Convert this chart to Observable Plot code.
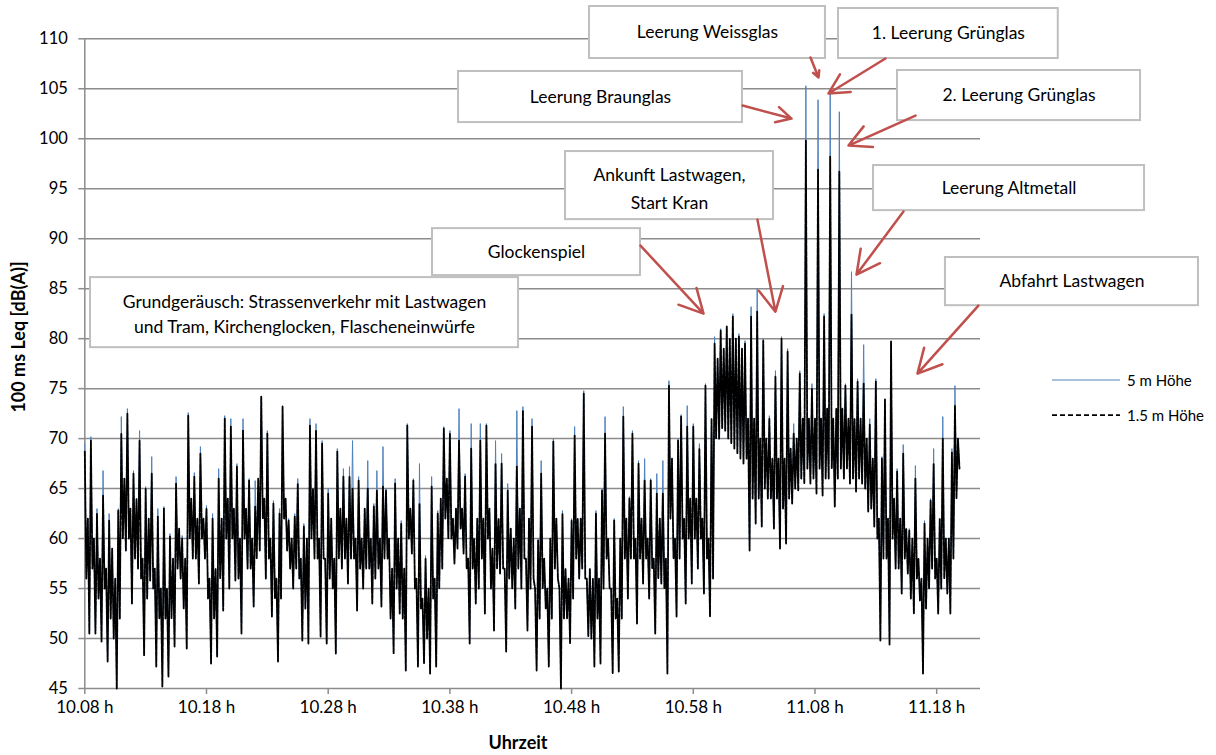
<!DOCTYPE html>
<html><head><meta charset="utf-8">
<script src="https://cdn.jsdelivr.net/npm/d3@7"></script>
<script src="https://cdn.jsdelivr.net/npm/@observablehq/plot@0.6"></script>
<style>
body{margin:0;background:#fff;}
#wrap{position:relative;width:1216px;height:755px;font-family:Lato,sans-serif;color:#000;}
#ylab{position:absolute;left:18px;top:337px;transform:translate(-50%,-50%) rotate(-90deg);font-weight:bold;font-size:18px;white-space:nowrap;}
#xlab{position:absolute;left:518px;top:742px;transform:translate(-50%,-50%);font-weight:bold;font-size:18px;white-space:nowrap;}
.leg{position:absolute;left:1051px;display:flex;align-items:center;font-size:15px;white-space:nowrap;}
.leg svg{margin-right:6px;}
</style>
</head><body>
<div id="wrap"></div>
<script>
// ---- data ----
// The 100 ms Leq record is summarised per 0.25-minute interval (starting 10.08 h)
// as the highest and lowest level reached in that interval.
const intervalMin = 0.25;
const xTickMinutes = [0,10,20,30,40,50,60,70];
const xTickLabels = ["10.08 h","10.18 h","10.28 h","10.38 h","10.48 h","10.58 h","11.08 h","11.18 h"];
const yTicks = [45,50,55,60,65,70,75,80,85,90,95,100,105,110];
const seriesNames = ["5 m Höhe","1.5 m Höhe"];
const yLabel = "100 ms Leq [dB(A)]";
const xLabel = "Uhrzeit";

// interval maxima, 1.5 m Höhe
const level15mMax = [
68.7,62,69.8,60,62.5,58,64.3,57,61.8,59,
56,62.8,70.5,66,72.5,63,66.5,64,69.8,58,
65,62,66.5,57,62.2,55,63,55,60.2,58,
65.5,61,60,58,72.3,64,66.2,62,68.5,62,
63,56,62,57,66,62,72,64,71.2,63,
67.2,60,70.8,63,65.8,60,63.2,66,74.2,64,
70.5,60,63.5,56,62.5,73.2,64,61.8,60,62.2,
65.5,58,61.2,60,71.3,65,70.8,60,69.5,58,
64.5,62,58,68.7,63,66.2,62,66.2,65,60,
65.8,60,63,65,60,63.2,64.8,60,65.2,64.8,
60,57,65.5,60,61.5,57,71.3,63,65.8,56,
63.5,54,58,55,65.2,56,62.5,64,71,66,
70.5,62,63,69.8,63,66.2,58,69,60,62,
69.8,62,71.3,63,59,67.5,62,67.5,57,64.8,
61,60,67.2,63,72.8,58,62,71.2,55,59.8,
66.5,58,55,60,69.7,62,55,62.5,57,56,
61.8,70.3,62,62,74.5,56,57,56,62.5,56,
64.8,70.5,60,55,61.8,54,60,72.2,62,64,
70.5,60,67.5,62,65.8,60,65.8,58,64.5,62,
64.5,58,75.3,68,60,69.8,72.2,62,71.2,64,
71.2,64,69,62,75.3,60,72,79.5,78,80.8,
79,81.2,80,82.2,80,80.2,79,79.5,72,82.2,
72,82.7,70,79.8,70,72,68,76.2,68,80,
68,78.7,69,70.5,70,76.5,72,99.8,72,75,
72,96.9,72,82.2,73,98.2,72,73,96.7,73,
75.3,72,82.4,72,75.7,72,75.5,70,71.4,68,
75.7,62,68,73.9,62,79.7,64,66.7,62,68.5,
61,60.8,60,66,58,56,61.5,60,63.8,67.5,
58,62,70,60,60,68.6,73.3,70
];
// interval maxima, 5 m Höhe
const level5mMax = [
69.5,62,70.2,60,63,58,66.8,57,62.5,59,
56,63,72.2,66,73,63,66.8,64,70.8,58,
65.2,62,68.2,57,63,55,63.2,55,60.5,58,
66.2,61,60.3,58,72.6,64,66.6,62,69.2,62,
63.3,56,62.5,57,67,62,72.3,64,72,63,
67.5,60,72,63,66,60,65.8,66,74.2,64,
70.8,60,63.8,56,63,73.3,64,62,60,62.5,
66,58,61.5,60,72,65,71.5,60,69.8,58,
65,62,58,69,63,67,62,67.2,69.8,60,
66.2,60,63,67.8,60,63.5,66.8,60,69.2,65,
60,57,66,60,61.8,57,71.5,63,66,56,
67.5,54,58.3,55,66.2,56,62.8,64,71.2,66,
70.8,62,63,73,63,66.5,58,71.5,60,62,
71.5,62,71.5,63,59,69.8,62,68.5,57,65.5,
61,60,72.8,63,73.2,58,62,72,55,60,
67.8,58,55,60,70,62,55,62.8,57,56,
62,71.2,62,62,74.8,56,57,56,62.8,56,
65,72.2,60,55,62,54,60,73.2,62,64.2,
70.8,60,67.8,62,68,60,66,58,66.5,62,
67.8,58,75.8,68,60,70,72.4,62,73.3,64,
71.5,64,69.5,62,75.5,60,72,80.2,78,81,
79,81.3,80,82.5,80,80.5,79,79.8,72,83.2,
72,85,70,80,70,72.3,68,76.8,68,80.2,
68,79,69,71.5,70,76.8,72,105.3,72,75.5,
72,103.9,72,82.5,73,104.5,72,73,102.7,73,
75.5,72,86.7,72,76,72,79.4,70,72,68,
76,62,68.2,74,62,79.8,64,67,62,69.4,
61,61,60,67.3,58,56,61.8,60,64,69,
58,62,72.2,60,60,69,75.3,70
];
// interval minima (both heights practically coincide)
const levelMin = [
56,50.5,57,50.5,54,49.7,55,47.7,52,50,
45,52,60,58.8,60,53.5,58,57,56,48.3,
54,55.8,55,47.2,52,45.2,52,46.2,52,49.2,
57,56,53,49,60,58,58,55.5,60,58,
54,47.5,52,48.2,56,52.8,60,55,60,55.8,
56,50.5,60,57,57,53.2,58,58.8,62,56,
58,52.2,54,47.7,54,62,58.8,57,55,57,
56,49.8,53,49.5,60,58,58,50.2,58,49.5,
56,55,48.5,58,57,58,55.5,58,58,52.8,
57,55,57,57,53.5,56,57,53.2,58,58,
52,48.5,55,52.5,52,46.8,60,58.5,55,47.2,
53,47.5,50,46.5,54,47.2,55,57,62,60,
60,57.5,59,61,58.5,57,49.5,57,53.5,55,
58,52.5,60,55,50.8,57,56.5,57,48.7,56,
55,53,57,55,58,50.8,55,56,46.8,52,
55,53,47.2,52,57,56,45,52,52,49.5,
54,58,56,57,56,50.2,50,47.2,52,47.5,
55,58,55,46.5,52,46.7,52,58,54,58,
58,51.5,58,55.5,58,54,57,50.5,56,55.5,
55,46.5,62,58,52.2,58,60,53.5,60,55.5,
60,57,60,54.5,58,52.2,56,70,70,71,
70.8,70,69.5,69,68.5,68,67.5,68,58.8,64,
61.5,64,61.2,65,64,64,61,64,59,63,
59.5,64,63.5,65,64.8,66,65.5,67,65.5,66,
64.5,67,64.3,66,66,67,63.2,66,67,66,
67,65.5,66,64.7,66,65.5,65,62.7,63,61.2,
60,49.8,58,58,49.4,60,57,57,54.5,58,
56.5,54,52.5,56,53.8,46.5,53,55,57,56,
52.5,55,56,54.5,52.5,58,64,67
];

// annotation boxes: label, [x1, x2] in minutes after 10.08 h, [top, bottom] in dB(A)
const annLabels = [
  "Leerung Weissglas",
  "1. Leerung Grünglas",
  "Leerung Braunglas",
  "2. Leerung Grünglas",
  "Ankunft Lastwagen,\nStart Kran",
  "Leerung Altmetall",
  "Glockenspiel",
  "Grundgeräusch: Strassenverkehr mit Lastwagen\nund Tram, Kirchenglocken, Flascheneinwürfe",
  "Abfahrt Lastwagen"
];
const annX = [[41.47,60.86],[61.93,79.99],[30.71,54.04],[66.78,86.75],[39.50,56.59],[64.81,87.08],[28.57,45.66],[0.47,35.64],[70.72,91.51]];
const annY = [[113.23,108.03],[113.03,108.03],[106.73,101.62],[106.83,101.82],[98.72,91.91],[97.32,92.81],[91.01,86.31],[86.11,79.10],[88.12,83.30]];
const annLineHeight = [1,1,1,1,1.6,1,1,1.42,1];
// arrows: [fromMinute, fromDb, toMinute, toDb]
const arrows = [
  [59.63,108.13,60.29,106.13],
  [65.79,108.03,61.11,104.53],
  [54.05,103.32,58.07,102.02],
  [68.26,102.32,62.75,99.32],
  [55.27,91.91,56.75,82.70],
  [67.27,92.71,63.41,86.41],
  [45.66,89.31,50.84,82.50],
  [73.43,83.30,68.42,76.50]
];

// ---- build ----
// each interval contributes its maximum then its minimum, in time order
const rows = level15mMax.flatMap((hi,i)=>[
  {t:i*intervalMin, h15:hi, h5:level5mMax[i]},
  {t:i*intervalMin+intervalMin/2, h15:levelMin[i], h5:levelMin[i]}
]);
const boxes = annLabels.map((s,i)=>({label:s, x1:annX[i][0], x2:annX[i][1], y1:annY[i][0], y2:annY[i][1],
  cx:(annX[i][0]+annX[i][1])/2, cy:(annY[i][0]+annY[i][1])/2, lh:annLineHeight[i]}));
const arrowRows = arrows.map(a=>({x1:a[0],y1:a[1],x2:a[2],y2:a[3]}));
const gray = "#8c8c8c";
const blueC = "#4f81bd";
const redC = "#c0504d";

const plot = Plot.plot({
  width:1216, height:755,
  marginLeft:84.3, marginRight:236, marginTop:38.3, marginBottom:67,
  style:{fontFamily:"Lato, sans-serif", fontSize:"17px", color:"#000", background:"#fff", overflow:"visible"},
  x:{domain:[0,73.6]},
  y:{domain:[45,110]},
  marks:[
    Plot.gridY(yTicks.filter(d=>d>45), {stroke:gray, strokeOpacity:1, strokeWidth:1.5}),
    Plot.ruleY([45], {stroke:gray, strokeWidth:1.5}),
    Plot.ruleX([0], {stroke:gray, strokeWidth:1.5}),
    Plot.axisY(yTicks, {tickSize:6, tickPadding:11, stroke:gray, strokeWidth:1.5, fill:"#000", label:null, fontSize:16.5}),
    Plot.axisX(xTickMinutes, {tickSize:6, tickPadding:6, stroke:gray, strokeWidth:1.5, fill:"#000", label:null, fontSize:17,
      tickFormat:d=>xTickLabels[xTickMinutes.indexOf(d)]}),
    Plot.line(rows, {x:"t", y:"h5", stroke:blueC, strokeWidth:1}),
    Plot.line(rows, {x:"t", y:"h15", stroke:"#000", strokeWidth:1.8, strokeDasharray:"5,1.2"}),
    Plot.rect(boxes, {x1:"x1", x2:"x2", y1:"y1", y2:"y2", fill:"#fff", stroke:"#bfbfbf", strokeWidth:2}),
    ...boxes.map(b=>Plot.text([b], {x:"cx", y:"cy", text:"label", fill:"#000", fontSize:17.5, lineHeight:b.lh})),
    Plot.arrow(arrowRows, {x1:"x1", y1:"y1", x2:"x2", y2:"y2", stroke:redC, strokeWidth:2.5, headLength:16, headAngle:55})
  ]
});
const wrap = document.getElementById("wrap");
wrap.appendChild(plot);

const yl = document.createElement("div"); yl.id="ylab"; yl.textContent=yLabel; wrap.appendChild(yl);
const xl = document.createElement("div"); xl.id="xlab"; xl.textContent=xLabel; wrap.appendChild(xl);

const legendY = [380, 415];
seriesNames.forEach((name,i)=>{
  const d = document.createElement("div"); d.className="leg";
  d.style.top = (legendY[i]-9)+"px";
  d.innerHTML = `<svg width="70" height="18"><line x1="1" x2="69" y1="9" y2="9" stroke="${i===0?blueC:'#000'}" stroke-width="${i===0?1.2:1.75}" ${i===1?'stroke-dasharray="5,3"':''}/></svg><span>${name}</span>`;
  wrap.appendChild(d);
});
</script>
</body></html>
